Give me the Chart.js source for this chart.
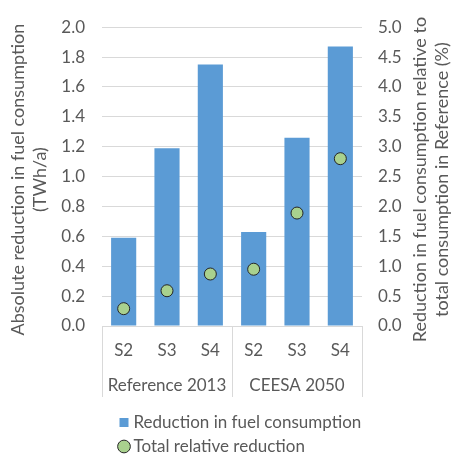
<!DOCTYPE html>
<html>
<head>
<meta charset="utf-8">
<script src="https://cdn.jsdelivr.net/npm/chart.js@4"></script>
<style>
  html, body { margin: 0; padding: 0; background: #fff; }
  #wrap { width: 453px; height: 456px; }
</style>
</head>
<body>
<div id="wrap"><canvas id="chart" width="453" height="456"></canvas></div>
<script>
const scenarios = ["S2", "S3", "S4", "S2", "S3", "S4"];
const groups = ["Reference 2013", "CEESA 2050"];
const absoluteReduction = [0.59, 1.19, 1.75, 0.63, 1.26, 1.87];   // TWh/a
const relativeReduction = [0.29, 0.59, 0.87, 0.95, 1.89, 2.80];   // %
const leftTitle = ["Absolute reduction in fuel consumption", "(TWh/a)"];
const rightTitle = ["Reduction in fuel consumption relative to", "total consumption in Reference (%)"];

const GREY = "#595959";
const GRID = "#d9d9d9";
const FONT = "Lato, 'Open Sans', sans-serif";

Chart.defaults.font.family = FONT;
Chart.defaults.font.size = 17;
Chart.defaults.color = GREY;

// rotated text, read bottom to top, lines stacked left to right
function drawVertical(ctx, lines, x, cy, gap) {
  ctx.save();
  ctx.translate(x, cy);
  ctx.rotate(-Math.PI / 2);
  lines.forEach((t, i) => ctx.fillText(t, 0, i * gap));
  ctx.restore();
}

// group labels under the S-ticks, separators, and the axis titles
const extras = {
  id: "extras",
  afterLayout(chart) {
    const lg = chart.legend;
    lg.left += 14; lg.right += 14;
    lg.top += 10; lg.bottom += 10;
  },
  afterDraw(chart) {
    const ctx = chart.ctx;
    const x = chart.scales.x;
    const area = chart.chartArea;
    const per = scenarios.length / groups.length;
    ctx.save();
    ctx.strokeStyle = GRID;
    ctx.lineWidth = 1;
    const edges = [area.left];
    for (let g = 1; g < groups.length; g++) {
      edges.push((x.getPixelForValue(g * per - 1) + x.getPixelForValue(g * per)) / 2);
    }
    edges.push(area.right);
    edges.forEach(px => {
      const e = Math.round(px) + 0.5;
      ctx.beginPath();
      ctx.moveTo(e, area.bottom);
      ctx.lineTo(e, area.bottom + 71);
      ctx.stroke();
    });
    ctx.fillStyle = GREY;
    ctx.font = "17px " + FONT;
    ctx.textAlign = "center";
    ctx.textBaseline = "middle";
    groups.forEach((name, g) => {
      const cx = (x.getPixelForValue(g * per) + x.getPixelForValue(g * per + per - 1)) / 2;
      ctx.fillText(name, cx, area.bottom + 60);
    });
    ctx.font = "18px " + FONT;
    const cy = (area.top + area.bottom) / 2 + 3;
    drawVertical(ctx, leftTitle, chart.scales.y.left + 18, cy, 22);
    drawVertical(ctx, rightTitle, chart.scales.y1.right - 33, cy, 22);
    ctx.restore();
  }
};

new Chart(document.getElementById("chart"), {
  data: {
    labels: scenarios,
    datasets: [
      {
        type: "bar",
        label: "Reduction in fuel consumption",
        data: absoluteReduction,
        yAxisID: "y",
        backgroundColor: "#5b9bd5",
        borderWidth: 0,
        barPercentage: 0.58,
        categoryPercentage: 1,
        pointStyle: "rect",
        order: 1
      },
      {
        type: "line",
        label: "Total relative reduction",
        data: relativeReduction,
        yAxisID: "y1",
        showLine: false,
        pointStyle: "circle",
        pointRadius: 6,
        pointBackgroundColor: "#a9d18e",
        pointBorderColor: "#262626",
        pointBorderWidth: 1,
        backgroundColor: "#a9d18e",
        borderColor: "#262626",
        borderWidth: 1,
        order: 0
      }
    ]
  },
  options: {
    responsive: false,
    animation: false,
    layout: { padding: { top: 6, left: 0, right: 0, bottom: 1 } },
    scales: {
      x: {
        grid: { display: false },
        border: { display: false },
        ticks: { padding: 6, color: GREY },
        afterFit(scale) { scale.height = 71; }
      },
      y: {
        position: "left",
        min: 0,
        max: 2,
        ticks: { stepSize: 0.2, padding: 17, callback: v => v.toFixed(1) },
        grid: { color: GRID, drawTicks: false },
        border: { display: false },
        afterFit(scale) { scale.width = 102; }
      },
      y1: {
        position: "right",
        min: 0,
        max: 5,
        ticks: { stepSize: 0.5, padding: 16, callback: v => v.toFixed(1) },
        grid: { drawOnChartArea: false, drawTicks: false },
        border: { display: false },
        afterFit(scale) { scale.width = 91; }
      }
    },
    plugins: {
      legend: {
        position: "bottom",
        align: "start",
        fullSize: false,
        reverse: true,
        labels: {
          usePointStyle: true,
          boxWidth: 2,
          boxHeight: 9,
          padding: 7,
          color: GREY,
          font: { size: 17 }
        }
      },
      tooltip: { enabled: false }
    }
  },
  plugins: [extras]
});
</script>
</body>
</html>
